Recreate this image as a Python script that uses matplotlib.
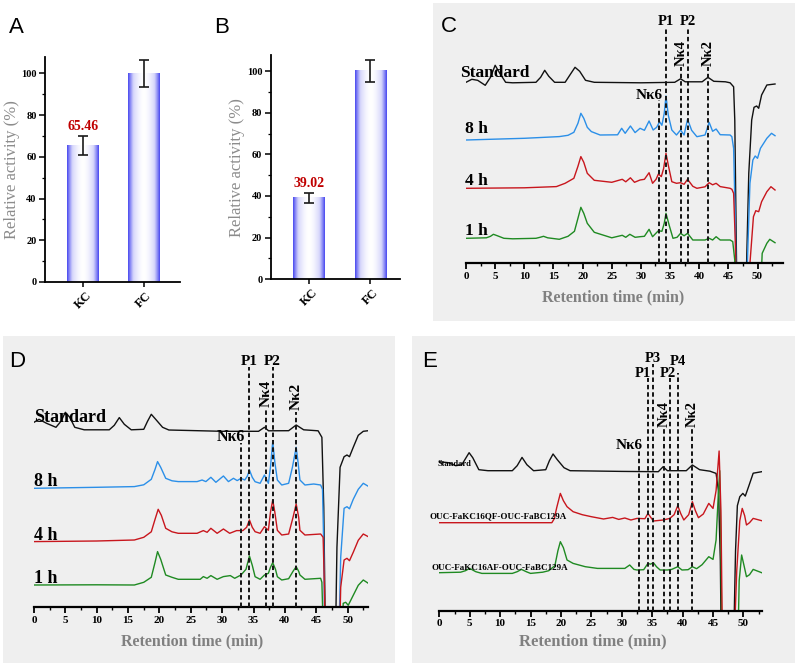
import numpy as np
import matplotlib
matplotlib.use('Agg')
import matplotlib.pyplot as plt
from matplotlib.patches import Rectangle
from matplotlib.colors import LinearSegmentedColormap
from matplotlib.ticker import MultipleLocator

# ---------------- data ----------------
bar_categories = ['KC', 'FC']
A_values = [65.46, 100.0]
A_errors = [4.5, 6.5]
B_values = [39.02, 100.0]
B_errors = [2.5, 5.3]

# Chromatograms: retention time (min) and signal (arbitrary, offset traces)
C_std_t = [0, 1.0, 2.0, 3.3, 4.2, 5.0, 5.8, 6.8, 8.0, 12.0, 12.8, 13.5, 14.2, 15.2, 17.0, 17.9, 18.7, 19.5, 20.5, 22.0,
           30.0, 35.8, 36.8, 37.6, 40.5, 41.5, 42.5, 44.5, 45.3, 45.9, 46.1, 46.4, 46.6, 47.8, 48.0, 48.5, 49.0, 49.4,
           49.85, 50.2, 50.7, 51.6, 53.0]
C_std_h = [181, 184, 183, 178, 186, 198, 190, 181, 180.5, 181, 186, 193, 187, 181, 181, 189, 196, 192, 183, 181,
           180.5, 181, 184.5, 181.5, 181.5, 186, 182, 181.5, 180.5, 176.5, 143, 0, -60, -60, -30, 90, 143.3, 156,
           157.3, 155, 168.3, 178.3, 179.3]
C_8h_t = [0, 10, 16, 17.5, 18.5, 19.2, 19.7, 20.2, 20.8, 21.5, 23, 26, 26.7, 27.3, 28.2, 29.0, 29.85, 30.6, 31.4, 32.1,
          32.7, 33.2, 33.6, 34.0, 34.3, 34.7, 35.3, 36.1, 36.8, 37.4, 38.0, 38.7, 39.6, 41.0, 41.7, 42.3, 42.9, 43.6,
          45.3, 45.6, 45.9, 46.2, 46.4, 48.0, 48.26, 48.7, 49.2, 49.6, 50.0, 50.5, 51.6, 52.4, 53.0]
C_8h_h = [123.3, 125, 126.7, 128, 131, 140, 150, 145, 136, 131.7, 128.3, 128.5, 135, 130, 137.3, 130.7, 135, 133, 142.3,
          133.3, 136, 141.6, 138, 150, 167.3, 148, 133.3, 128.3, 133.3, 128.3, 144, 133, 126.6, 128.3, 141, 132, 134.3,
          128.6, 128.3, 126.6, 115, 40, -60, -60, 0, 80, 103.3, 107.3, 105, 115, 125, 130, 127.6]
C_4h_t = [0, 10, 15.5, 17, 18.5, 19.2, 19.7, 20.2, 20.8, 22, 25, 26.8, 27.4, 28.2, 28.9, 29.85, 30.6, 31.4, 32.0, 32.6,
          33.0, 33.5, 33.9, 34.3, 34.7, 35.3, 36.1, 36.8, 37.4, 38.0, 38.9, 39.6, 41.0, 41.7, 42.3, 42.9, 43.6, 45.3,
          45.6, 45.9, 46.2, 46.4, 48.4, 48.7, 49.3, 49.7, 50.2, 50.7, 51.6, 52.3, 53.0]
C_4h_h = [75, 75.5, 76.7, 80, 85, 97, 106.7, 101, 90, 83, 81, 84, 81.5, 85.5, 81, 83.3, 84, 90.6, 80, 84,
          89.3, 86.7, 95, 110, 98, 81.6, 80, 80.6, 79, 84, 77, 75, 76.5, 80.6, 78.5, 80, 76.7, 75,
          74, 70, 20, -60, -60, 0, 46.6, 52.6, 51.6, 61.6, 71.6, 76.6, 73.3]
C_1h_t = [0, 3.5, 4.2, 4.7, 5.4, 6.5, 8, 12, 12.7, 13.3, 14.0, 16, 17.5, 18.6, 19.2, 19.7, 20.2, 20.8, 22, 25, 26.8,
          27.4, 28.1, 29.0, 29.85, 30.6, 31.4, 32.0, 33.0, 33.6, 34.0, 34.3, 34.9, 35.5, 36.2, 36.8, 37.4, 38.0, 38.9,
          41.0, 41.7, 42.3, 42.9, 43.6, 45.3, 45.75, 46.1, 46.3, 50.3, 50.8, 51.6, 52.1, 53.0]
C_1h_h = [25, 25.5, 27, 29, 27.5, 25, 24.5, 25, 26, 27, 25.5, 24, 27, 32, 45, 56, 50, 40, 31, 25.5, 28,
          26, 29, 26, 26.6, 27, 34, 26.6, 32.6, 32, 40, 50, 37, 25, 26, 30, 27.5, 30, 23.3,
          23.3, 25, 23.3, 26.6, 23.3, 23.3, 21.7, 3, -60, -60, 10, 20, 24, 20.6]

D_std_t = [0, 0.8, 2.0, 3.5, 4.3, 5.0, 5.7, 6.5, 8, 12, 12.8, 13.6, 14.4, 15.5, 17.5, 18.1, 18.7, 19.4, 20.5, 21.5,
           30, 35.8, 36.74, 37.4, 40.6, 41.8, 43, 45.3, 45.9, 46.2, 46.4, 46.5, 48.0, 48.3, 48.8, 49.44, 49.9, 50.3,
           50.9, 51.7, 52.5, 53.3]
D_std_h = [185, 188, 184, 180, 186, 195, 190, 180, 177.5, 177.5, 182, 189.7, 183, 177.5, 178, 186, 193, 188, 180, 177.3,
           176, 176, 180, 176.5, 176.6, 182.3, 177.5, 176.5, 170, 100, 0, -60, -60, 60, 140, 150.6, 152.3, 150.6,
           160, 172, 176, 176.6]
D_8h_t = [0, 10, 16, 17.5, 18.7, 19.3, 19.7, 20.2, 21, 22, 23, 26, 26.8, 27.4, 28.2, 29, 30.2, 31.0, 31.8, 32.4, 33.0,
          33.6, 34.0, 34.35, 34.8, 35.25, 36.05, 36.74, 37.37, 37.7, 38.06, 38.4, 38.8, 39.5, 40.6, 41.2, 41.8, 42.1,
          42.4, 43.2, 44.6, 45.7, 46.0, 46.2, 46.4, 48.5, 48.9, 49.44, 49.9, 50.3, 50.9, 51.7, 52.5, 53.3]
D_8h_h = [119, 120, 120.7, 122.5, 128, 138, 145.7, 140, 129, 126.5, 125.7, 125.7, 127.3, 125.7, 130, 125, 131.3, 125.7,
          129, 126.7, 129, 127.3, 131, 137.3, 130, 125.6, 124, 132.3, 124, 140, 165.6, 145, 127.3, 122.3, 124, 140, 160,
          145, 127.3, 122.3, 123.3, 122.3, 118, 60, -60, -60, 50, 99, 100.6, 98.5, 108, 118, 124, 121]
D_4h_t = [0, 10, 16, 17.5, 18.7, 19.3, 19.8, 20.3, 21, 22, 23, 26, 27, 27.6, 28.2, 29.2, 30.2, 31.2, 32.3, 33.3, 33.9,
          34.35, 34.8, 35.25, 36.05, 36.74, 37.37, 37.7, 38.06, 38.4, 38.8, 39.5, 40.6, 41.3, 41.8, 42.2, 42.4, 43.2,
          45.7, 46.1, 46.3, 46.5, 48.6, 48.9, 49.44, 49.9, 50.3, 50.9, 51.7, 52.5, 53.3]
D_4h_h = [65.7, 66.3, 67.3, 70, 75.5, 88, 98, 92, 79, 75.5, 74, 74, 76.7, 75, 79, 74, 78.3, 74, 76.7, 76.7, 80,
          87.3, 80, 75.6, 74, 80.6, 77, 95, 107.3, 95, 77, 72.3, 73.3, 90, 103.3, 90, 77, 72.3,
          73.3, 70, 20, -60, -60, 20, 47.3, 49, 46.6, 55, 67, 73.3, 70.6]
D_1h_t = [0, 10, 16, 17.5, 18.7, 19.3, 19.7, 20.2, 21, 22, 23, 26.5, 27, 27.6, 28.2, 29.2, 30.2, 31.3, 32, 33, 33.8,
          34.35, 34.8, 35.25, 36.05, 36.74, 37.37, 37.7, 38.06, 38.5, 38.8, 39.5, 40.6, 41.3, 41.8, 42.2, 42.4, 43.2,
          45.7, 45.9, 46.1, 46.3, 49.0, 49.3, 49.7, 50.1, 50.9, 51.7, 52.5, 53.3]
D_1h_h = [22.3, 22.5, 22.3, 25, 30, 45, 55.7, 48, 32.3, 30, 28, 28, 30.7, 29, 31.7, 28, 30.7, 31.7, 29, 32.3, 38,
          51.3, 42, 30.6, 28, 32.3, 34, 40, 44.6, 38, 30.6, 27.3, 28.6, 36, 40.6, 36, 32.3, 28,
          29, 25, -20, -60, -60, 4, 5, 2, 12, 22, 27.3, 24]

E_std_t = [0, 1.5, 2.7, 3.7, 4.3, 4.9, 5.5, 6.5, 8, 12, 12.8, 13.6, 14.4, 15.5, 17.5, 18.1, 18.7, 19.4, 20.5, 21.5,
           30, 36, 36.8, 37.5, 40.6, 41.6, 42.8, 44.5, 45.5, 45.9, 46.2, 46.4, 48.3, 48.7, 49.0, 49.4, 49.9, 50.3,
           50.9, 51.6, 53.0]
E_std_h = [149, 148, 145, 146, 152, 158, 153, 141, 140, 140, 145, 153.3, 146, 140, 141, 150, 156.7, 151, 143, 140,
           139.3, 139, 144, 140, 140, 145.7, 141, 139.5, 137.3, 120, 50, -60, -60, 60, 105, 114, 117.3, 114.6,
           125, 137.5, 139]
E_qf_t = [0, 10, 18.5, 18.9, 19.3, 19.9, 20.4, 21, 22, 23.5, 25, 27, 28.5, 29.5, 30.5, 31.5, 32.5, 33.8, 34.3, 34.8,
          35.2, 36.8, 37.9, 38.6, 39.2, 39.7, 40.2, 41.0, 41.6, 42.1, 42.6, 43.4, 44.3, 45.0, 45.5, 46.0, 46.3, 46.6,
          48.3, 48.9, 49.4, 49.8, 50.2, 50.5, 51.0, 51.6, 53.0]
E_qf_h = [88, 88, 88, 92, 103, 117.3, 110, 104, 99, 96, 94, 91.7, 93.3, 91.3, 92.7, 90.7, 92.3, 92, 97.3, 93,
          89.7, 90.7, 92.3, 96, 105, 97, 90.7, 96, 109, 100, 93, 96.7, 107.3, 102.3, 120, 159.7, 100, -60,
          -60, 40, 90, 102.3, 95, 85.7, 88, 92.3, 90]
E_af_t = [0, 3.5, 4.3, 5, 6, 7, 12, 12.8, 13.5, 14.3, 15, 17, 18, 19, 19.5, 19.9, 20.4, 21, 22, 24, 26, 28, 30.5, 31.3,
          32.0, 32.5, 33.6, 34.3, 34.7, 35.2, 35.7, 36.3, 37.5, 38.2, 39.2, 39.9, 40.9, 41.6, 42.3, 43.2, 44.3, 45.0,
          45.5, 45.9, 46.1, 46.3, 46.5, 49.0, 49.3, 49.7, 50.1, 50.5, 51.0, 51.6, 53.0]
E_af_h = [38, 38.5, 40, 42.3, 39, 37.3, 37.3, 39, 41.3, 39, 37.3, 38.5, 40, 45, 60, 69, 63, 50.7, 47.3, 44, 42.3, 42.3,
          42.3, 45.7, 41.3, 40.7, 41, 47.3, 46.5, 48, 44, 40.7, 40.7, 41.3, 44, 40.7, 41, 44, 42, 46, 54, 51.3,
          70.7, 120, 140, 60, -60, -60, 30, 55.7, 45, 34, 36, 41.3, 38]

C_mark_names = ['Nκ6', 'P1', 'Nκ4', 'P2', 'Nκ2']
C_mark_times = [33.1, 34.3, 36.8, 38.0, 41.5]
D_mark_names = ['Nκ6', 'P1', 'Nκ4', 'P2', 'Nκ2']
D_mark_times = [33.0, 34.35, 36.95, 38.05, 41.8]
E_mark_names = ['Nκ6', 'P1', 'P3', 'Nκ4', 'P2', 'P4', 'Nκ2']
E_mark_times = [32.9, 34.25, 35.1, 36.9, 37.9, 39.2, 41.6]

C_rows = ['Standard', '8 h', '4 h', '1 h']
D_rows = ['Standard', '8 h', '4 h', '1 h']
E_rows = ['Standard', 'OUC-FaKC16QF-OUC-FaBC129A', 'OUC-FaKC16AF-OUC-FaBC129A']

# ---------------- layout / style ----------------
W, H = 795, 665
plt.rcParams['font.family'] = ['Liberation Serif', 'DejaVu Serif']
plt.rcParams['font.weight'] = 'bold'
fig = plt.figure(figsize=(W / 100, H / 100), dpi=100)
fig.patch.set_facecolor('white')

SANS = ['Liberation Sans', 'DejaVu Sans']
GRAY_BOX = '#efefef'
LABEL_GRAY = '#808080'
COL_BLACK, COL_BLUE, COL_RED, COL_GREEN = '#111111', '#2b8fe8', '#c8161d', '#1f8a22'


def rect(l, t, r, b):
    return [l / W, 1 - b / H, (r - l) / W, (b - t) / H]


def ftext(x, y, s, **kw):
    return fig.text(x / W, 1 - y / H, s, **kw)


def box(l, t, r, b):
    fig.patches.append(Rectangle((l / W, 1 - b / H), (r - l) / W, (b - t) / H, transform=fig.transFigure,
                                 facecolor=GRAY_BOX, edgecolor='none', zorder=-5))


box(432.7, 3, 795, 320.7)
box(3, 336, 395, 663)
box(411.7, 336, 795, 663)

bar_cmap = LinearSegmentedColormap.from_list('barg', ['#ffffff', '#d6d6fb', '#4a4af0'])
grad = (np.abs(np.linspace(-1, 1, 80)) ** 1.7)[None, :]


def bar_panel(bx, ytop, xlim, values, errors, ylab_x, letter, letter_x):
    ax = fig.add_axes(rect(*bx))
    ax.set_facecolor('none')
    x = np.arange(len(bar_categories))
    bars = ax.bar(x, values, width=0.51, color='none', edgecolor='none', zorder=1)
    for b in bars:
        ax.imshow(grad, cmap=bar_cmap, vmin=0, vmax=1, aspect='auto', interpolation='bilinear',
                  extent=(b.get_x(), b.get_x() + b.get_width(), 0, b.get_height()), zorder=2)
    ax.errorbar(x, values, yerr=errors, fmt='none', ecolor='#1a1a1a', elinewidth=1.2, capsize=3.6,
                capthick=1.2, zorder=3)
    ax.text(x[0], values[0] + errors[0] + 1.5, f'{values[0]:.2f}', ha='center', va='bottom',
            color='#c00000', fontsize=10, fontweight='bold')
    ax.set_xlim(*xlim)
    ax.set_ylim(0, ytop)
    ax.set_xticks(x)
    ax.set_xticklabels(bar_categories, rotation=45, fontsize=9, fontweight='bold')
    ax.yaxis.set_major_locator(MultipleLocator(20))
    ax.yaxis.set_minor_locator(MultipleLocator(10))
    ax.set_yticks([0, 20, 40, 60, 80, 100])
    for lbl in ax.get_yticklabels():
        lbl.set_fontsize(7.5)
        lbl.set_fontweight('bold')
    for s in ['top', 'right']:
        ax.spines[s].set_visible(False)
    for s in ['left', 'bottom']:
        ax.spines[s].set_linewidth(1.3)
    ax.tick_params(axis='y', which='major', length=4, width=1.1, direction='out', pad=2)
    ax.tick_params(axis='y', which='minor', length=2.3, width=0.9, direction='out')
    ax.tick_params(axis='x', which='major', length=3.5, width=1.1, direction='out', pad=2)
    ftext(ylab_x, (bx[1] + bx[3]) / 2, 'Relative activity (%)', rotation=90, ha='center', va='center',
          color='#8c8c8c', fontsize=12, fontweight='normal')
    ftext(letter_x, 33, letter, fontsize=16, family=SANS, fontweight='normal', va='baseline')
    return ax


bar_panel((45, 57, 180, 282), 107.8, (-0.623, 1.59), A_values, A_errors, 12, 'A', 9)
bar_panel((270.7, 55, 400, 279.3), 107.7, (-0.628, 1.49), B_values, B_errors, 237, 'B', 214)


def chrom_panel(bx, tmax, traces, names, times, tops, kinds, label_tops, label_dx, fs, xlab_xy, xlab_fs):
    l, t, r, b = bx
    ax = fig.add_axes(rect(l, t, r, b))
    ax.set_facecolor('none')
    ax.set_xlim(0, tmax)
    ax.set_ylim(0, b - t)
    for tt, hh, c in traces:
        ax.plot(tt, hh, color=c, lw=1.0, solid_joinstyle='round')
    ax.vlines(times, 0, tops, colors='#141414', linestyles=(0, (2.3, 1.5)), lw=1.4, zorder=4)
    for nm, tm, lt, dx, kd in zip(names, times, label_tops, label_dx, kinds):
        if kd == 'top':
            ax.text(tm + dx, lt + 1.5, nm, ha='center', va='baseline', fontsize=fs, clip_on=False)
        elif kd == 'rot':
            ax.text(tm + 0.05 + dx, lt + 1.5, nm, ha='left', va='center', rotation=90, rotation_mode='anchor',
                    fontsize=fs, clip_on=False)
        else:
            ax.text(tm + 0.6 + dx, lt + 1.5, nm, ha='right', va='baseline', fontsize=fs + 0.5, clip_on=False)
    for s in ['top', 'right', 'left']:
        ax.spines[s].set_visible(False)
    ax.spines['bottom'].set_linewidth(1.6)
    ax.set_yticks([])
    ax.xaxis.set_major_locator(MultipleLocator(5))
    ax.xaxis.set_minor_locator(MultipleLocator(2.5))
    ax.tick_params(axis='x', which='major', length=4, width=1.3, direction='out', pad=2, labelsize=8)
    ax.tick_params(axis='x', which='minor', length=2.5, width=1.0, direction='out')
    for lbl in ax.get_xticklabels():
        lbl.set_fontweight('bold')
    ftext(xlab_xy[0], xlab_xy[1], 'Retention time (min)', ha='center', va='center', color=LABEL_GRAY,
          fontsize=xlab_fs, fontweight='bold')
    return ax


# Panel C
C_tops = [163, 236.5, 196, 236.5, 196]
chrom_panel((466, 5, 783, 263.3), 54.37,
            [(C_std_t, C_std_h, COL_BLACK), (C_8h_t, C_8h_h, COL_BLUE), (C_4h_t, C_4h_h, COL_RED),
             (C_1h_t, C_1h_h, COL_GREEN)],
            C_mark_names, C_mark_times, C_tops, ['left', 'top', 'rot', 'top', 'rot'], C_tops, [0] * 5,
            10.5, (613, 297), 11.5)
ftext(441, 32, 'C', fontsize=16, family=SANS, fontweight='normal', va='baseline')
for name, y in zip(C_rows, [72, 128, 180, 230]):
    ftext(460 if name == 'Standard' else 465, y + 1, name, ha='left', va='center', fontsize=12.5)

# Panel D
D_tops = [164.6, 240.6, 198.3, 240.6, 195.6]
chrom_panel((34, 340, 368.3, 607.3), 53.3,
            [(D_std_t, D_std_h, COL_BLACK), (D_8h_t, D_8h_h, COL_BLUE), (D_4h_t, D_4h_h, COL_RED),
             (D_1h_t, D_1h_h, COL_GREEN)],
            D_mark_names, D_mark_times, D_tops, ['left', 'top', 'rot', 'top', 'rot'], D_tops, [0] * 5,
            11, (192.5, 641.7), 11.5)
ftext(9, 367, 'D', fontsize=16, family=SANS, fontweight='normal', va='baseline')
for name, y in zip(D_rows, [417, 480.7, 534, 577.3]):
    ftext(34, y + 1, name, ha='left', va='center', fontsize=13)

# Panel E
E_tops = [160.7, 232.7, 247, 182.7, 232.7, 238, 182.7]
E_label_tops = [160.7, 232.7, 247, 182.7, 232.7, 244.5, 182.7]
E_label_dx = [0, -0.75, 0, 0, -0.4, 0.1, 0]
chrom_panel((439.3, 340, 762.3, 610.7), 53.1,
            [(E_std_t, E_std_h, COL_BLACK), (E_af_t, E_af_h, COL_GREEN), (E_qf_t, E_qf_h, COL_RED)],
            E_mark_names, E_mark_times, E_tops,
            ['left', 'top', 'top', 'rot', 'top', 'top', 'rot'], E_label_tops, E_label_dx,
            10.5, (593.3, 641.7), 12)
ftext(422, 367, 'E', fontsize=16, family=SANS, fontweight='normal', va='baseline')
ftext(438, 464, E_rows[0], ha='left', va='center', fontsize=6)
ftext(430, 516, E_rows[1], ha='left', va='center', fontsize=6.5)
ftext(432, 568, E_rows[2], ha='left', va='center', fontsize=6.5)

fig.savefig('out.png', dpi=100, facecolor='white')
